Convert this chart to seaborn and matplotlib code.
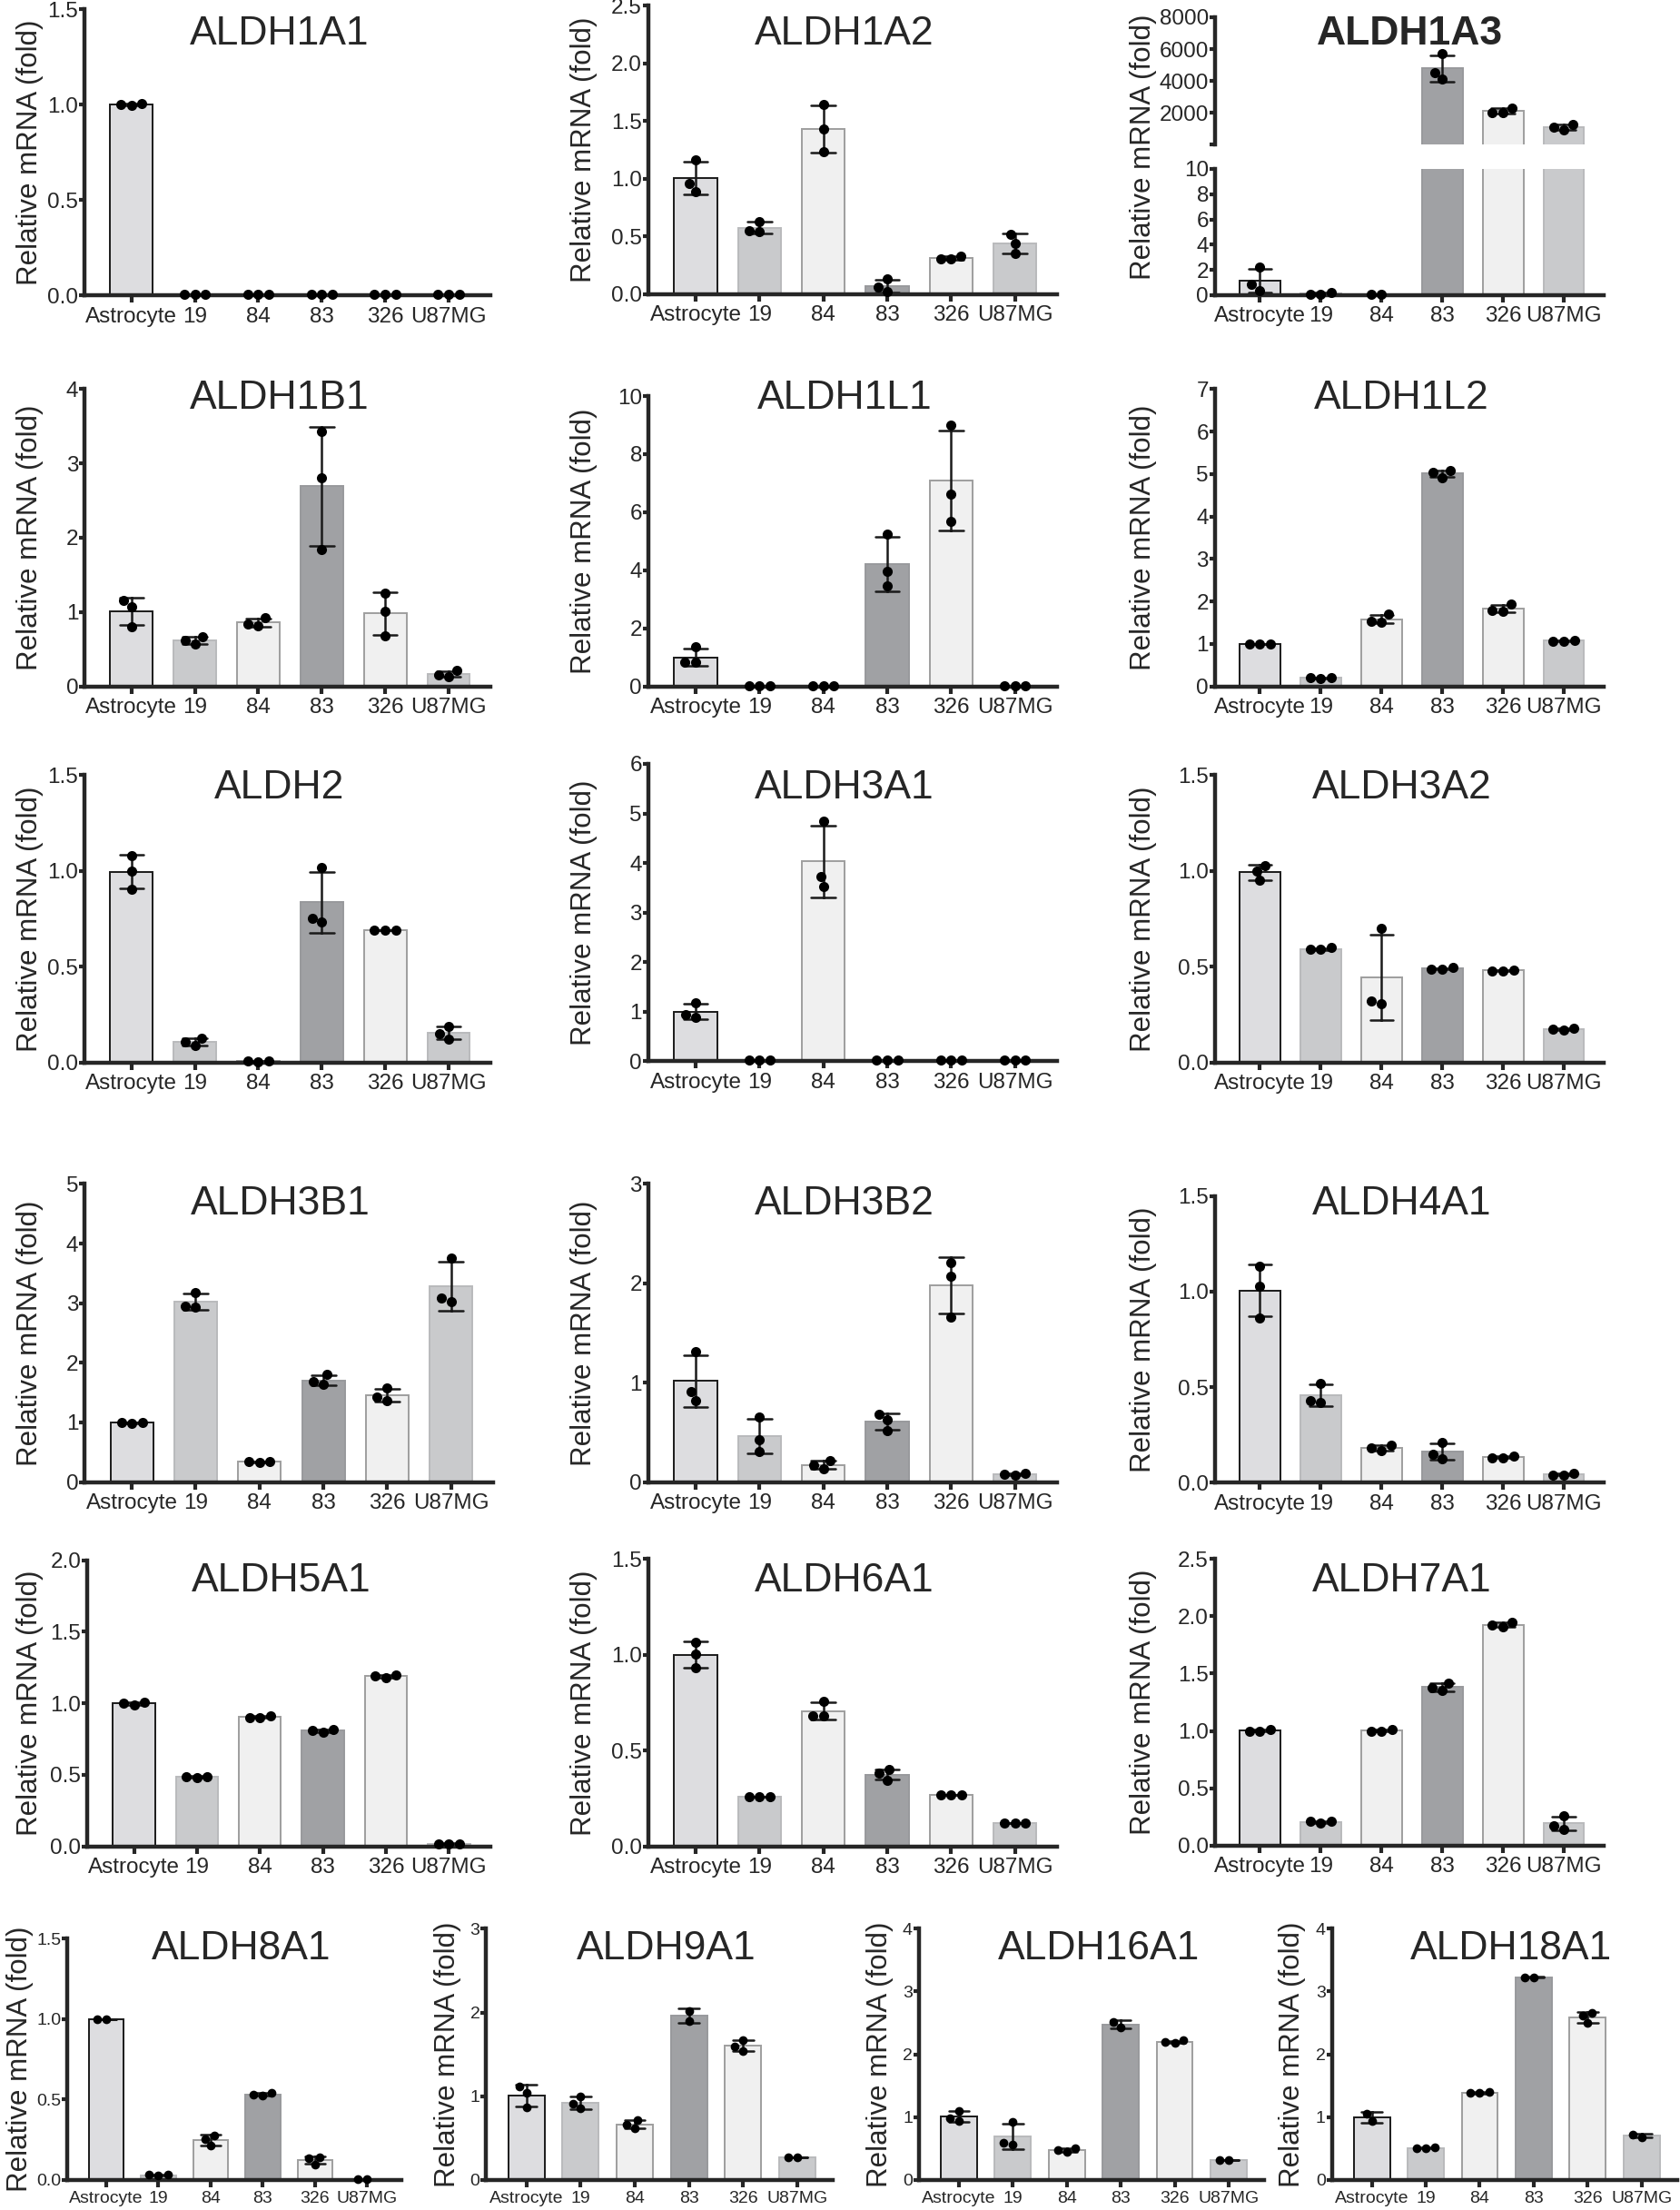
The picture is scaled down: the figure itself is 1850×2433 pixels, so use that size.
import numpy as np
import pandas as pd
import seaborn as sns
import matplotlib.pyplot as plt
from matplotlib.patches import Rectangle
from matplotlib.ticker import FormatStrFormatter

sns.set_style('ticks')
plt.rcParams['font.family'] = ['Liberation Sans', 'DejaVu Sans']

cells = ['Astrocyte', '19', '84', '83', '326', 'U87MG']
bar_colors = ['#dcdde0', '#c9cacc', '#f0f0f0', '#a0a1a4', '#f0f0f0', '#c9cacc']
edge_colors = ['#1a1a1a', '#b9babc', '#9e9e9e', '#98999c', '#9e9e9e', '#b9babc']

# replicate values per cell line
aldh1a1 = [[1.00, 0.995, 1.005], [0.004, 0.005, 0.006], [0.004, 0.005, 0.005],
           [0.006, 0.005, 0.007], [0.004, 0.005, 0.004], [0.006, 0.005, 0.007]]
aldh1a2 = [[1.16, 0.96, 0.89], [0.63, 0.55, 0.54], [1.64, 1.43, 1.23],
           [0.13, 0.06, 0.02], [0.33, 0.30, 0.30], [0.52, 0.44, 0.35]]
aldh1a3 = [[2.2, 0.85, 0.38], [0.2, 0.08, 0.1], [0.05, 0.04],
           [5700, 4550, 4100], [2330, 2020, 2030], [1310, 960, 1120]]
aldh1b1 = [[1.16, 1.07, 0.80], [0.67, 0.62, 0.57], [0.92, 0.82, 0.84],
           [3.43, 2.81, 1.84], [1.25, 1.01, 0.68], [0.21, 0.13, 0.16]]
aldh1l1 = [[1.36, 0.83, 0.82], [0.01, 0.02, 0.01], [0.01, 0.02, 0.01],
           [5.25, 3.95, 3.45], [9.0, 6.62, 5.67], [0.01, 0.02, 0.01]]
aldh1l2 = [[1.0, 0.99, 1.0], [0.2, 0.19, 0.2], [1.70, 1.52, 1.53],
           [5.08, 4.92, 5.03], [1.93, 1.78, 1.77], [1.08, 1.07, 1.07]]
aldh2 = [[1.08, 1.0, 0.905], [0.13, 0.11, 0.09], [0.008, 0.01, 0.006],
         [1.02, 0.755, 0.735], [0.69, 0.69, 0.69], [0.19, 0.15, 0.125]]
aldh3a1 = [[1.18, 0.95, 0.88], [0.02, 0.02, 0.02], [4.85, 3.72, 3.52],
           [0.02, 0.02, 0.02], [0.02, 0.02, 0.02], [0.02, 0.02, 0.02]]
aldh3a2 = [[1.03, 1.0, 0.95], [0.6, 0.59, 0.59], [0.70, 0.32, 0.31],
           [0.495, 0.49, 0.49], [0.485, 0.48, 0.48], [0.18, 0.17, 0.175]]
aldh3b1 = [[1.0, 0.99, 1.0], [3.18, 2.95, 2.93], [0.35, 0.33, 0.34],
           [1.80, 1.64, 1.68], [1.58, 1.37, 1.42], [3.76, 3.08, 3.02]]
aldh3b2 = [[1.31, 0.914, 0.822], [0.655, 0.427, 0.305], [0.213, 0.168, 0.137],
           [0.685, 0.624, 0.518], [2.21, 2.07, 1.66], [0.09, 0.07, 0.08]]
aldh4a1 = [[1.13, 1.027, 0.861], [0.521, 0.427, 0.419], [0.195, 0.18, 0.17],
           [0.21, 0.15, 0.126], [0.14, 0.13, 0.13], [0.05, 0.04, 0.04]]
aldh5a1 = [[1.01, 0.99, 1.0], [0.49, 0.49, 0.48], [0.91, 0.90, 0.90],
           [0.82, 0.81, 0.80], [1.20, 1.18, 1.19], [0.02, 0.015, 0.02]]
aldh6a1 = [[1.066, 1.003, 0.932], [0.26, 0.26, 0.26], [0.758, 0.682, 0.679],
           [0.40, 0.38, 0.345], [0.27, 0.27, 0.27], [0.12, 0.12, 0.12]]
aldh7a1 = [[1.01, 1.0, 1.0], [0.21, 0.21, 0.20], [1.01, 1.0, 1.0],
           [1.42, 1.38, 1.35], [1.95, 1.92, 1.91], [0.26, 0.175, 0.145]]
aldh8a1 = [[1.0, 1.0], [0.03, 0.025, 0.03], [0.275, 0.255, 0.21],
           [0.54, 0.525, 0.53], [0.141, 0.132, 0.094], [0.005, 0.005]]
aldh9a1 = [[1.116, 1.043, 0.862], [0.996, 0.913, 0.851], [0.717, 0.659, 0.616],
           [2.02, 1.90], [1.674, 1.594, 1.54], [0.27, 0.27]]
aldh16a1 = [[1.10, 0.98, 0.93], [0.916, 0.588, 0.554], [0.5, 0.47, 0.45],
            [2.52, 2.43], [2.22, 2.19, 2.18], [0.32, 0.32]]
aldh18a1 = [[1.055, 0.935], [0.51, 0.50, 0.50], [1.40, 1.38, 1.38],
            [3.23, 3.22], [2.663, 2.615, 2.494], [0.72, 0.68]]

# axis top and tick step per gene
ymax = {'ALDH1A1': 1.5, 'ALDH1A2': 2.5, 'ALDH1B1': 4, 'ALDH1L1': 10, 'ALDH1L2': 7,
        'ALDH2': 1.5, 'ALDH3A1': 6, 'ALDH3A2': 1.5, 'ALDH3B1': 5, 'ALDH3B2': 3,
        'ALDH4A1': 1.5, 'ALDH5A1': 2.0, 'ALDH6A1': 1.5, 'ALDH7A1': 2.5,
        'ALDH8A1': 1.5, 'ALDH9A1': 3, 'ALDH16A1': 4, 'ALDH18A1': 4}
ystep = {'ALDH1A1': 0.5, 'ALDH1A2': 0.5, 'ALDH1B1': 1, 'ALDH1L1': 2, 'ALDH1L2': 1,
         'ALDH2': 0.5, 'ALDH3A1': 1, 'ALDH3A2': 0.5, 'ALDH3B1': 1, 'ALDH3B2': 1,
         'ALDH4A1': 0.5, 'ALDH5A1': 0.5, 'ALDH6A1': 0.5, 'ALDH7A1': 0.5,
         'ALDH8A1': 0.5, 'ALDH9A1': 1, 'ALDH16A1': 1, 'ALDH18A1': 1}
values = {'ALDH1A1': aldh1a1, 'ALDH1A2': aldh1a2, 'ALDH1B1': aldh1b1, 'ALDH1L1': aldh1l1,
          'ALDH1L2': aldh1l2, 'ALDH2': aldh2, 'ALDH3A1': aldh3a1, 'ALDH3A2': aldh3a2,
          'ALDH3B1': aldh3b1, 'ALDH3B2': aldh3b2, 'ALDH4A1': aldh4a1, 'ALDH5A1': aldh5a1,
          'ALDH6A1': aldh6a1, 'ALDH7A1': aldh7a1, 'ALDH8A1': aldh8a1, 'ALDH9A1': aldh9a1,
          'ALDH16A1': aldh16a1, 'ALDH18A1': aldh18a1}

# layout measured on a 1192 px wide copy: (gene, left, right, top, bottom, ylabel right edge, title center y)
W, H = 1192, 1568
layout = [
    ('ALDH1A1', 60, 348, 6.5, 209.5, 31, 21.5),
    ('ALDH1A2', 460, 750, 4, 208.5, 424, 21.5),
    ('ALDH1B1', 60, 348, 276, 487, 31, 280),
    ('ALDH1L1', 460, 750, 281, 487, 424, 280),
    ('ALDH1L2', 862, 1138, 276, 487, 821, 280),
    ('ALDH2', 60, 348, 550, 754, 31, 556.7),
    ('ALDH3A1', 460, 750, 542, 753, 424, 556.7),
    ('ALDH3A2', 862, 1138, 550, 754, 821, 556.7),
    ('ALDH3B1', 60, 350, 840, 1051.5, 31, 851.6),
    ('ALDH3B2', 460, 750, 840, 1051.5, 424, 851.6),
    ('ALDH4A1', 862, 1138, 848.5, 1052, 821, 851.6),
    ('ALDH5A1', 62, 348, 1107, 1310, 31, 1119),
    ('ALDH6A1', 460, 750, 1106, 1310, 424, 1119),
    ('ALDH7A1', 862, 1138, 1106, 1309.5, 821, 1119),
    ('ALDH8A1', 48, 285, 1375.5, 1546.5, 24, 1380),
    ('ALDH9A1', 345, 591, 1368.5, 1546.5, 327, 1380),
    ('ALDH16A1', 652, 897, 1368.5, 1546.5, 634, 1380),
    ('ALDH18A1', 945, 1190, 1368.5, 1546.5, 926.5, 1380),
]

fig = plt.figure(figsize=(18.5, 24.33), dpi=100)


def place(l, r, t, b):
    return fig.add_axes([l / W, 1 - b / H, (r - l) / W, (b - t) / H])


def draw(ax, vals, small, clip=(-0.3, 1.3)):
    df = pd.DataFrame({'cell': [c for c, v in zip(cells, vals) for _ in v],
                       'val': [x for v in vals for x in v]})
    sns.barplot(data=df, x='cell', y='val', order=cells, hue='cell', hue_order=cells,
                palette=bar_colors, legend=False, errorbar='sd', capsize=0.38, width=0.67,
                err_kws={'color': '#1a1a1a', 'linewidth': 1.8}, ax=ax)
    for p, ec in zip(ax.patches, edge_colors):
        p.set_edgecolor(ec)
        p.set_linewidth(1.4)
    n = len(ax.collections)
    sns.swarmplot(data=df, x='cell', y='val', order=cells, color='black',
                  size=7 if small else 8, linewidth=0, ax=ax, zorder=5)
    box = Rectangle((-0.1, clip[0]), 1.2, clip[1] - clip[0], transform=ax.transAxes)
    for coll in ax.collections[n:]:
        coll.set_clip_path(box)
    fs = 14 if small else 17.5
    ax.set_xlim(-0.74, 5.66)
    sns.despine(ax=ax)
    for s in ('left', 'bottom'):
        ax.spines[s].set_linewidth(3.2)
    ax.tick_params(axis='y', length=4, width=3, pad=1, labelsize=fs)
    ax.tick_params(axis='x', length=6, width=3, pad=3, labelsize=fs)
    ax.set_xlabel('')
    ax.set_ylabel('')


for gene, l, r, t, b, yl, ty in layout:
    small = b > 1500
    ax = place(l, r, t, b)
    draw(ax, values[gene], small)
    top, step = ymax[gene], ystep[gene]
    ax.set_ylim(0, top)
    ax.set_yticks(np.arange(0, top + step / 2, step))
    ax.yaxis.set_major_formatter(FormatStrFormatter('%.1f' if step < 1 else '%d'))
    ax.set_ylabel('Relative mRNA (fold)', fontsize=22.5)
    ax.yaxis.set_label_coords((yl - l) / (r - l), 0.5)
    ax.text(0.52 if small else 0.48, (b - ty - 10) / (b - t), gene, transform=ax.transAxes,
            ha='center', va='baseline', fontsize=32)

# ALDH1A3 with a broken y axis
l, r = 862, 1138
ax_up = place(l, r, 12.2, 102.7)
ax_lo = place(l, r, 119.8, 209.4)
draw(ax_up, aldh1a3, False, clip=(0.06, 1.3))
draw(ax_lo, aldh1a3, False, clip=(-0.3, 1.0))
ax_up.set_ylim(10, 8000)
ax_up.set_yticks([10, 2000, 4000, 6000, 8000])
ax_up.set_yticklabels(['', '2000', '4000', '6000', '8000'])
ax_up.spines['bottom'].set_visible(False)
ax_up.tick_params(axis='x', bottom=False, labelbottom=False)
# marks that stay under the break belong to the lower part only
for p in ax_up.patches:
    if p.get_height() < 10:
        p.set_visible(False)
up_box = Rectangle((-0.1, 0.04), 1.2, 1.3, transform=ax_up.transAxes)
for line in ax_up.lines:
    line.set_clip_path(up_box)
ax_lo.set_ylim(0, 10)
ax_lo.set_yticks([0, 2, 4, 6, 8, 10])
ax_lo.set_ylabel('Relative mRNA (fold)', fontsize=22.5)
ax_lo.yaxis.set_label_coords((821 - l) / (r - l), (209.4 - 104) / (209.4 - 119.8))
ax_up.text(0.5, (102.7 - 21.5 - 10) / (102.7 - 12.2), 'ALDH1A3', transform=ax_up.transAxes,
           ha='center', va='baseline', fontsize=32, fontweight='bold')

fig.savefig('out.png', dpi=100)
